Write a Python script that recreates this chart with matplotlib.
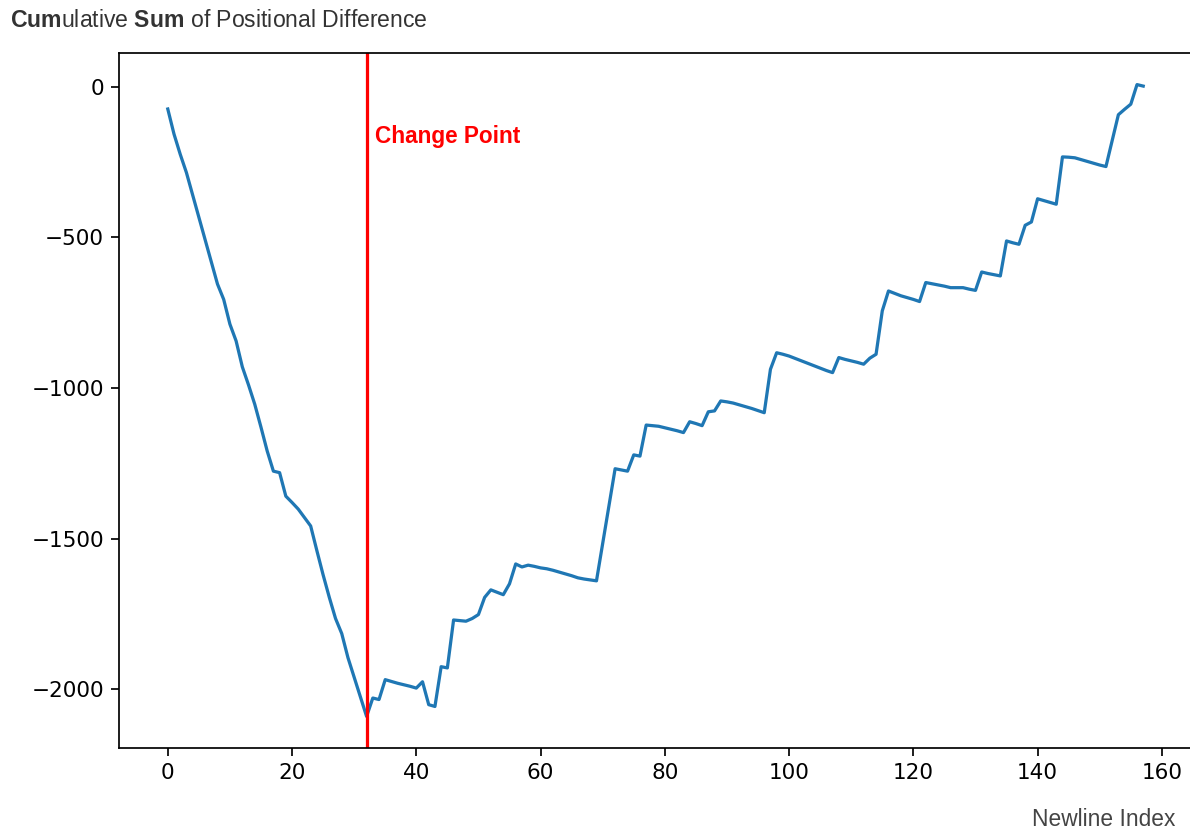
import numpy as np
import matplotlib.pyplot as plt

# cumulative sum of the positional difference, one value per newline index
cusum = np.array([
    -74, -157, -224, -285, -359, -433, -507, -581, -655, -706,
    -788, -844, -930, -990, -1054, -1130, -1209, -1276, -1281, -1359,
    -1380, -1402, -1430, -1458, -1540, -1620, -1695, -1765, -1815, -1895,
    -1960, -2025, -2090, -2029, -2034, -1968, -1974, -1980, -1985, -1990,
    -1996, -1975, -2051, -2057, -1925, -1929, -1770, -1772, -1774, -1765,
    -1752, -1695, -1670, -1678, -1686, -1650, -1584, -1594, -1588, -1592,
    -1597, -1600, -1605, -1611, -1617, -1623, -1630, -1634, -1637, -1640,
    -1516, -1392, -1268, -1272, -1276, -1222, -1226, -1123, -1125, -1127,
    -1132, -1137, -1142, -1148, -1112, -1118, -1125, -1079, -1076, -1043,
    -1046, -1050, -1056, -1062, -1068, -1075, -1082, -938, -883, -888,
    -894, -902, -910, -918, -926, -934, -942, -949, -899, -905,
    -910, -915, -921, -901, -888, -744, -678, -686, -694, -700,
    -706, -713, -650, -654, -658, -662, -667, -667, -667, -672,
    -676, -615, -620, -624, -628, -512, -518, -523, -460, -449,
    -372, -378, -384, -390, -233, -234, -236, -242, -248, -254,
    -260, -265, -179, -93, -75, -58, 7, 2])
newline_index = np.arange(len(cusum))
change_point = 32

fig = plt.figure(figsize=(1190 / 155, 835 / 155), dpi=155)
ax = fig.add_axes([119 / 1190, 87 / 835, 1073 / 1190, 695 / 835])

ax.plot(newline_index, cusum, color='#1f77b4', lw=1.5)
ax.axvline(change_point, color='red', lw=1.5)
ax.text(change_point + 1.3, -165, 'Change Point', color='red',
        fontsize=10.5, family='Liberation Sans', fontweight='bold', va='center')

# headings drawn in figure coordinates
plt.rcParams['mathtext.fontset'] = 'custom'
plt.rcParams['mathtext.bf'] = 'Liberation Sans:bold'
plt.rcParams['mathtext.rm'] = 'Liberation Sans'
fig.text(10 / 1190, 1 - 27 / 835,
         r'$\mathbf{Cum}$ulative $\mathbf{Sum}$ of Positional Difference',
         family='Liberation Sans', fontsize=10.7, color='#333333', va='baseline')
fig.text(1175 / 1190, 9 / 835, 'Newline Index', family='Liberation Sans',
         fontsize=10.6, color='#444444', ha='right', va='baseline')

fig.savefig('out.png', dpi=155)
